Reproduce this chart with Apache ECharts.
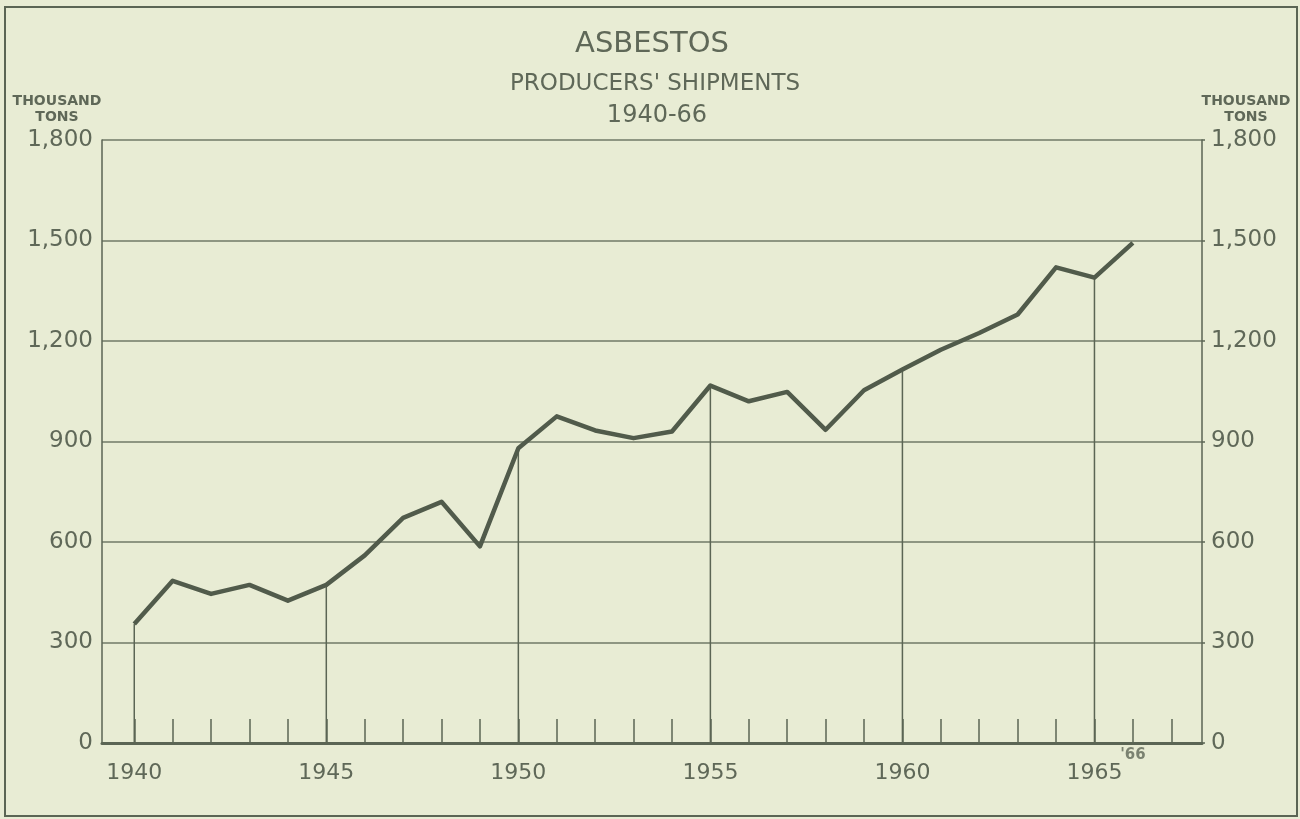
<!DOCTYPE html>
<html>
<head>
<meta charset="utf-8">
<title>Asbestos producers' shipments 1940-66</title>
<script src="https://cdn.jsdelivr.net/npm/echarts@6.0.0/dist/echarts.min.js"></script>
<style>
  html, body { margin: 0; padding: 0; background: #e8ecd4; }
  #chart { width: 1300px; height: 819px; }
</style>
</head>
<body>
<div id="chart"></div>
<script>
// data (thousand tons)
const years = [1940, 1941, 1942, 1943, 1944, 1945, 1946, 1947, 1948, 1949,
  1950, 1951, 1952, 1953, 1954, 1955, 1956, 1957, 1958, 1959,
  1960, 1961, 1962, 1963, 1964, 1965, 1966]
const shipments = [355, 484, 445, 472, 425, 472, 560, 672, 720, 587,
  880, 975, 933, 910, 930, 1067, 1020, 1048, 935, 1053,
  1115, 1174, 1224, 1279, 1420, 1389, 1493]
const dropYears = [1940, 1945, 1950, 1955, 1960, 1965]
const tickYears = [1940, 1941, 1942, 1943, 1944, 1945, 1946, 1947, 1948, 1949,
  1950, 1951, 1952, 1953, 1954, 1955, 1956, 1957, 1958, 1959,
  1960, 1961, 1962, 1963, 1964, 1965, 1966, 1967]
const labelYears = [1940, 1945, 1950, 1955, 1960, 1965]

const ink = '#5b6554'
const textInk = '#5f6858'
const font = 'DejaVu Sans'

let myChart = echarts.init(document.getElementById('chart'))

const linePoints = years.map((y, i) => [y, shipments[i]])
const dropPoints = dropYears.map(y => [y, shipments[years.indexOf(y)]])

// plain text helper for the titles
function label(text, x, y, size, weight) {
  return {
    type: 'text', x: x, y: y, silent: true,
    style: {
      text: text, fill: textInk, font: (weight || 'normal') + ' ' + size + 'px "' + font + '"',
      align: 'center', verticalAlign: 'middle', lineHeight: 16
    }
  }
}

const yAxisBase = {
  type: 'value',
  min: 0,
  max: 1800,
  interval: 300,
  axisLine: {show: true, lineStyle: {color: ink, width: 1.5}},
  splitLine: {show: true, lineStyle: {color: ink, width: 1.5, opacity: 0.85}},
  axisLabel: {
    color: textInk,
    fontFamily: font,
    fontSize: 23,
    margin: 9,
    formatter: v => v.toLocaleString('en-US')
  }
}

let option = {
  backgroundColor: '#e8ecd4',
  animation: false,
  graphic: [
    {
      type: 'rect',
      shape: {x: 5, y: 7, width: 1292, height: 809},
      style: {fill: 'none', stroke: ink, lineWidth: 2},
      silent: true
    },
    label('ASBESTOS', 652, 44, 29),
    label("PRODUCERS' SHIPMENTS", 655, 84, 23),
    label('1940-66', 657, 116, 24),
    label('THOUSAND\nTONS', 57, 109, 14, 'bold'),
    label('THOUSAND\nTONS', 1246, 109, 14, 'bold')
  ],
  grid: {left: 102, right: 98, top: 140, bottom: 76},
  xAxis: {
    type: 'value',
    min: 1939.16,
    max: 1967.8,
    axisLine: {show: true, onZero: false, lineStyle: {color: ink, width: 3}},
    splitLine: {show: false},
    axisTick: {show: true, inside: true, length: 24, customValues: tickYears,
      lineStyle: {color: ink, width: 1.5}},
    axisLabel: {
      customValues: labelYears,
      color: textInk,
      fontFamily: font,
      fontSize: 22,
      margin: 19,
      formatter: v => String(v)
    }
  },
  yAxis: [
    Object.assign({}, yAxisBase, {position: 'left', axisTick: {show: false}}),
    Object.assign({}, yAxisBase, {position: 'right', splitLine: {show: false},
      axisTick: {show: true, length: 3, lineStyle: {color: ink, width: 1.5}}})
  ],
  series: [
    {
      // vertical drop lines at every fifth year
      type: 'custom',
      data: dropPoints,
      renderItem: function (params, api) {
        const top = api.coord([api.value(0), api.value(1)])
        const bottom = api.coord([api.value(0), 0])
        return {
          type: 'line',
          shape: {x1: bottom[0], y1: bottom[1], x2: top[0], y2: top[1]},
          style: {stroke: ink, lineWidth: 1.5}
        }
      },
      z: 2,
      silent: true
    },
    {
      type: 'line',
      data: linePoints,
      symbol: 'none',
      lineStyle: {color: '#515b4b', width: 4.5, join: 'round'},
      z: 3
    },
    {
      // the '66 marker under the last year
      type: 'scatter',
      data: [[1966, 0]],
      symbolSize: 0,
      label: {
        show: true,
        formatter: "'66",
        position: 'bottom',
        offset: [0, 0],
        fontFamily: font,
        fontWeight: 'bold',
        fontSize: 15,
        color: textInk
      },
      silent: true
    }
  ]
}

myChart.setOption(option)
</script>
</body>
</html>
